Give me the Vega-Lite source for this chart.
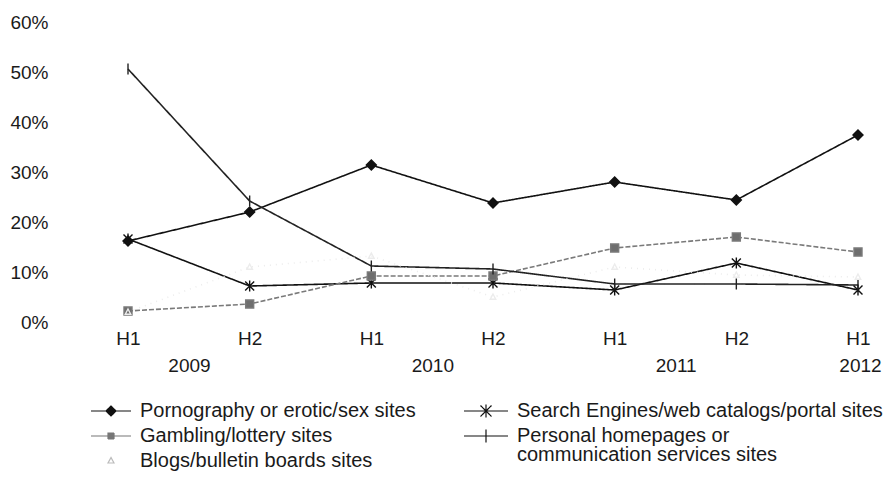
{
  "$schema": "https://vega.github.io/schema/vega-lite/v6.json",
  "width": 790,
  "height": 300,
  "autosize": {"type": "none"},
  "padding": {"left": 98, "top": 22, "right": 8, "bottom": 161},
  "background": "white",
  "config": {
    "view": {"stroke": null},
    "font": "Liberation Sans",
    "axis": {"labelFont": "Liberation Sans", "labelColor": "#1a1a1a", "labelFontSize": 19},
    "legend": {"labelFont": "Liberation Sans", "labelColor": "#1a1a1a", "labelFontSize": 20, "labelLimit": 600, "padding": 0}
  },
  "data": {
    "values": [
      {"series": "Pornography or erotic/sex sites", "period": "2009 H1", "value": 16.2},
      {"series": "Pornography or erotic/sex sites", "period": "2009 H2", "value": 22.0},
      {"series": "Pornography or erotic/sex sites", "period": "2010 H1", "value": 31.4},
      {"series": "Pornography or erotic/sex sites", "period": "2010 H2", "value": 23.8},
      {"series": "Pornography or erotic/sex sites", "period": "2011 H1", "value": 28.0},
      {"series": "Pornography or erotic/sex sites", "period": "2011 H2", "value": 24.4},
      {"series": "Pornography or erotic/sex sites", "period": "2012 H1", "value": 37.4},
      {"series": "Search Engines/web catalogs/portal sites", "period": "2009 H1", "value": 16.6},
      {"series": "Search Engines/web catalogs/portal sites", "period": "2009 H2", "value": 7.2},
      {"series": "Search Engines/web catalogs/portal sites", "period": "2010 H1", "value": 7.8},
      {"series": "Search Engines/web catalogs/portal sites", "period": "2010 H2", "value": 7.8},
      {"series": "Search Engines/web catalogs/portal sites", "period": "2011 H1", "value": 6.4},
      {"series": "Search Engines/web catalogs/portal sites", "period": "2011 H2", "value": 11.8},
      {"series": "Search Engines/web catalogs/portal sites", "period": "2012 H1", "value": 6.4},
      {"series": "Gambling/lottery sites", "period": "2009 H1", "value": 2.2},
      {"series": "Gambling/lottery sites", "period": "2009 H2", "value": 3.6},
      {"series": "Gambling/lottery sites", "period": "2010 H1", "value": 9.2},
      {"series": "Gambling/lottery sites", "period": "2010 H2", "value": 9.2},
      {"series": "Gambling/lottery sites", "period": "2011 H1", "value": 14.8},
      {"series": "Gambling/lottery sites", "period": "2011 H2", "value": 17.0},
      {"series": "Gambling/lottery sites", "period": "2012 H1", "value": 14.0},
      {"series": "Personal homepages or communication services sites", "period": "2009 H1", "value": 50.6},
      {"series": "Personal homepages or communication services sites", "period": "2009 H2", "value": 24.2},
      {"series": "Personal homepages or communication services sites", "period": "2010 H1", "value": 11.2},
      {"series": "Personal homepages or communication services sites", "period": "2010 H2", "value": 10.6},
      {"series": "Personal homepages or communication services sites", "period": "2011 H1", "value": 7.6},
      {"series": "Personal homepages or communication services sites", "period": "2011 H2", "value": 7.6},
      {"series": "Personal homepages or communication services sites", "period": "2012 H1", "value": 7.4},
      {"series": "Blogs/bulletin boards sites", "period": "2009 H1", "value": 2.0},
      {"series": "Blogs/bulletin boards sites", "period": "2009 H2", "value": 11.0},
      {"series": "Blogs/bulletin boards sites", "period": "2010 H1", "value": 13.2},
      {"series": "Blogs/bulletin boards sites", "period": "2010 H2", "value": 5.0},
      {"series": "Blogs/bulletin boards sites", "period": "2011 H1", "value": 11.0},
      {"series": "Blogs/bulletin boards sites", "period": "2011 H2", "value": 9.4},
      {"series": "Blogs/bulletin boards sites", "period": "2012 H1", "value": 9.0}
    ]
  },
  "layer": [
    {
      "mark": {"type": "line"},
      "encoding": {
        "x": {
          "field": "period", "type": "ordinal",
          "scale": {"type": "point", "domain": ["2009 H1", "2009 H2", "2010 H1", "2010 H2", "2011 H1", "2011 H2", "2012 H1"], "padding": 0.2466},
          "axis": {"title": null, "orient": "bottom", "domain": false, "ticks": false, "grid": false, "labelAngle": 0, "labelPadding": 7, "labelExpr": "split(datum.value, ' ')[1]"}
        },
        "y": {
          "field": "value", "type": "quantitative",
          "scale": {"domain": [0, 60]},
          "axis": {"title": null, "domain": false, "ticks": false, "grid": false, "values": [0, 10, 20, 30, 40, 50, 60], "labelExpr": "datum.value + '%'", "offset": 45, "labelPadding": 5}
        },
        "color": {
          "field": "series", "type": "nominal",
          "scale": {"domain": ["Pornography or erotic/sex sites", "Search Engines/web catalogs/portal sites", "Gambling/lottery sites", "Personal homepages or communication services sites", "Blogs/bulletin boards sites"],
                    "range": ["#111111", "#111111", "#7a7a7a", "#222222", "#ececec"]},
          "legend": null
        },
        "strokeWidth": {
          "field": "series", "type": "nominal",
          "scale": {"domain": ["Pornography or erotic/sex sites", "Search Engines/web catalogs/portal sites", "Gambling/lottery sites", "Personal homepages or communication services sites", "Blogs/bulletin boards sites"],
                    "range": [1.6, 1.6, 1.3, 1.2, 1]},
          "legend": null
        },
        "opacity": {
          "field": "series", "type": "nominal",
          "scale": {"domain": ["Blogs/bulletin boards sites", "Pornography or erotic/sex sites", "Gambling/lottery sites", "Personal homepages or communication services sites", "Search Engines/web catalogs/portal sites"],
                    "range": [1, 1, 1, 1, 1]},
          "legend": {
            "title": null, "orient": "none", "legendX": -8, "legendY": 378, "direction": "vertical",
            "values": ["Pornography or erotic/sex sites", "Gambling/lottery sites", "Blogs/bulletin boards sites"],
            "symbolSize": 400, "symbolOffset": 10, "labelOffset": 18, "rowPadding": 4,
            "labelExpr": "datum.label",
            "encode": {
              "symbols": {"update": {
                "shape": {"signal": "datum.value == 'Pornography or erotic/sex sites' ? 'M-2,0H2M0,-0.5L0.5,0L0,0.5L-0.5,0Z' : datum.value == 'Gambling/lottery sites' ? 'M-2,0H2M-0.3,-0.3H0.3V0.3H-0.3Z' : 'M0,-0.35L0.3,0.2H-0.3Z'"},
                "stroke": {"signal": "datum.value == 'Pornography or erotic/sex sites' ? '#111111' : datum.value == 'Gambling/lottery sites' ? '#777777' : '#bbbbbb'"},
                "fill": {"signal": "datum.value == 'Pornography or erotic/sex sites' ? '#111111' : datum.value == 'Gambling/lottery sites' ? '#777777' : 'transparent'"},
                "strokeDash": {"value": [1, 0]},
                "strokeWidth": {"value": 1.2},
                "opacity": {"value": 1}
              }},
              "labels": {"update": {"lineHeight": {"value": 19}}}
            }
          }
        },
        "strokeDash": {
          "field": "series", "type": "nominal",
          "scale": {"domain": ["Search Engines/web catalogs/portal sites", "Personal homepages or communication services sites", "Pornography or erotic/sex sites", "Gambling/lottery sites", "Blogs/bulletin boards sites"],
                    "range": [[1, 0], [1, 0], [1, 0], [5, 2], [1, 5]]},
          "legend": {
            "title": null, "orient": "none", "legendX": 365, "legendY": 378, "direction": "vertical",
            "values": ["Search Engines/web catalogs/portal sites", "Personal homepages or communication services sites"],
            "symbolSize": 400, "symbolOffset": 12, "labelOffset": 20, "rowPadding": 4,
            "labelExpr": "datum.label == 'Personal homepages or communication services sites' ? ['Personal homepages or', 'communication services sites'] : datum.label",
            "encode": {
              "symbols": {"update": {
                "shape": {"signal": "datum.value == 'Search Engines/web catalogs/portal sites' ? 'M-2.2,0H2.2M-0.55,-0.55L0.55,0.55M0.55,-0.55L-0.55,0.55M0,-0.65V0.65' : 'M-2.2,0H2.2M0,-0.65V0.65'"},
                "stroke": {"value": "#111111"},
                "fill": {"value": "transparent"},
                "strokeDash": {"value": [1, 0]},
                "strokeWidth": {"value": 1.2},
                "opacity": {"value": 1}
              }},
              "labels": {"update": {"lineHeight": {"value": 19}}}
            }
          }
        }
      }
    },
    {
      "mark": {"type": "point", "size": 100, "strokeWidth": 1.4, "opacity": 1},
      "encoding": {
        "x": {
          "field": "period", "type": "ordinal",
          "axis": {"title": null, "orient": "bottom", "domain": false, "ticks": false, "grid": false, "labelAngle": 0, "labelPadding": 34,
                   "values": ["2009 H1", "2010 H1", "2011 H1", "2012 H1"],
                   "labelExpr": "split(datum.value, ' ')[0]",
                   "labelOffset": {"condition": {"test": "datum.value == '2012 H1'", "value": 2}, "value": 61}}
        },
        "y": {"field": "value", "type": "quantitative"},
        "color": {"field": "series", "type": "nominal", "legend": null},
        "fill": {
          "field": "series", "type": "nominal",
          "scale": {"domain": ["Pornography or erotic/sex sites", "Search Engines/web catalogs/portal sites", "Gambling/lottery sites", "Personal homepages or communication services sites", "Blogs/bulletin boards sites"],
                    "range": ["#111111", "transparent", "#6e6e6e", "transparent", "transparent"]},
          "legend": null
        },
        "shape": {
          "field": "series", "type": "nominal",
          "scale": {"domain": ["Pornography or erotic/sex sites", "Gambling/lottery sites", "Blogs/bulletin boards sites", "Search Engines/web catalogs/portal sites", "Personal homepages or communication services sites"],
                    "range": ["M0,-1L1,0L0,1L-1,0Z", "M-0.8,-0.8H0.8V0.8H-0.8Z", "M0,-0.6L0.55,0.45H-0.55Z", "M-0.9,-0.9L0.9,0.9M0.9,-0.9L-0.9,0.9M0,-1.1V1.1", "M0,-1.1V1.1"]},
          "legend": null
        }
      }
    }
  ],
  "resolve": {"axis": {"x": "independent"}}
}
